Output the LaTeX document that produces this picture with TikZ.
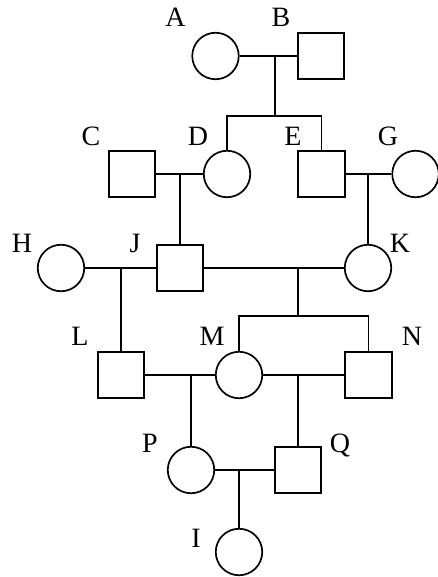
\documentclass[tikz,border=0pt]{standalone}
\usepackage{fontspec}
\setmainfont{Liberation Serif}
\usetikzlibrary{positioning}

\begin{document}
\begin{tikzpicture}[
    x=1pt, y=-1pt,
    female/.style={circle, draw, line width=1.7pt, minimum size=46.5pt, inner sep=0pt},
    male/.style={rectangle, draw, line width=1.7pt, minimum size=46.5pt, inner sep=0pt},
    tie/.style={line width=1.7pt},
    letter/.style={font=\fontsize{28}{28}\selectfont, anchor=base, inner sep=0pt},
]
\useasboundingbox (0,0) rectangle (437,577);

% First generation
\node[female] (A) at (215.5,56) {};
\node[male] (B) at (321,56) {};

% Second generation
\node[male] (C) at (132,174) {};
\node[female] (D) at (227,174) {};
\node[male] (E) at (321.5,174) {};
\node[female] (G) at (415.5,174) {};

% Third generation
\node[female] (H) at (61,268) {};
\node[male] (J) at (180,268) {};
\node[female] (K) at (368,268) {};

% Fourth generation
\node[male] (L) at (121,375) {};
\node[female] (M) at (239,375) {};
\node[male] (N) at (368.5,375) {};

% Fifth and sixth generation
\node[female] (P) at (191,470) {};
\node[male] (Q) at (298,470) {};
\node[female] (I) at (239,552) {};

% Names
\node[letter] (lA) at (175.5,27) {A};
\node[letter] (lB) at (281,27) {B};
\node[letter] (lC) at (91,146) {C};
\node[letter] (lD) at (198,146) {D};
\node[letter] (lE) at (293,146) {E};
\node[letter] (lG) at (388,146) {G};
\node[letter] (lH) at (22,252) {H};
\node[letter] (lJ) at (135,252) {J};
\node[letter] (lK) at (400,252) {K};
\node[letter] (lL) at (80,345.5) {L};
\node[letter] (lM) at (212,345.5) {M};
\node[letter] (lN) at (412,345.5) {N};
\node[letter] (lP) at (150,452) {P};
\node[letter] (lQ) at (340,452) {Q};
\node[letter] (lI) at (196,547) {I};

% Junctions
\coordinate (AB) at (275,56);
\coordinate (ABkids) at (275,116);
\coordinate (CD) at (180,174);
\coordinate (EG) at (368,174);
\coordinate (HJ) at (121,268);
\coordinate (JK) at (298,268);
\coordinate (JKkids) at (298,316);
\coordinate (LM) at (191,375);
\coordinate (MN) at (298,375);
\coordinate (PQ) at (239,470);

% Marriages
\draw[tie] (A) -- (B);
\draw[tie] (C) -- (D);
\draw[tie] (E) -- (G);
\draw[tie] (H) -- (J);
\draw[tie] (J) -- (K);
\draw[tie] (L) -- (M);
\draw[tie] (M) -- (N);
\draw[tie] (P) -- (Q);

% Descent
\draw[tie] (AB) -- (ABkids);
\draw[tie] (D) |- (ABkids) -| (E);
\draw[tie] (CD) -- (J);
\draw[tie] (EG) -- (K);
\draw[tie] (HJ) -- (L);
\draw[tie] (JK) -- (JKkids);
\draw[tie] (M) |- (JKkids) -| (N);
\draw[tie] (LM) -- (P);
\draw[tie] (MN) -- (Q);
\draw[tie] (PQ) -- (I);

\end{tikzpicture}
\end{document}
